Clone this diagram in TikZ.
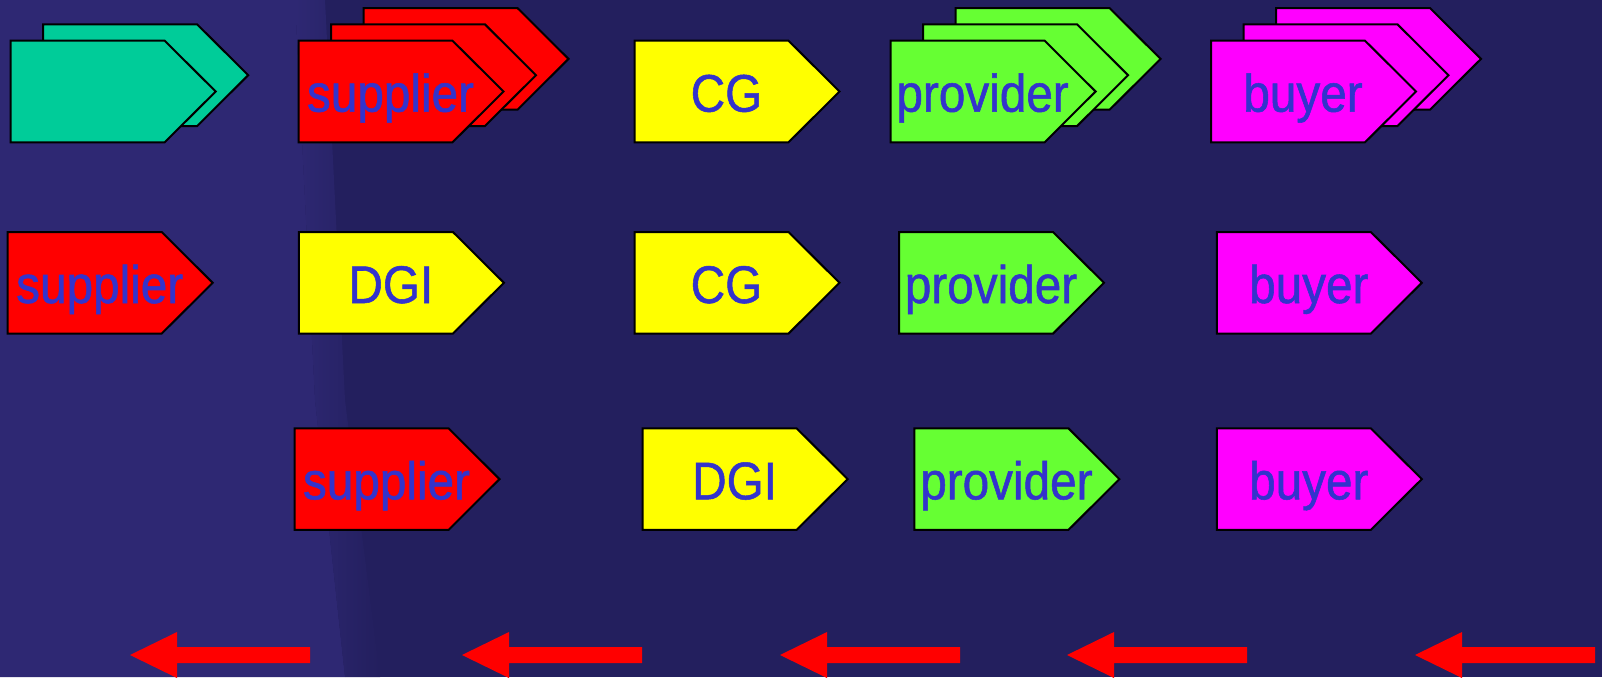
\documentclass[tikz,border=0pt]{standalone}
\usepackage{fontspec}
\newfontfamily\tagfont[FakeStretch=0.9, FakeBold=1]{Liberation Sans}
\definecolor{bgdark}{RGB}{35,31,94}
\definecolor{bgband}{RGB}{46,40,115}
\definecolor{tealtag}{RGB}{0,204,153}
\definecolor{redtag}{RGB}{255,0,0}
\definecolor{yellowtag}{RGB}{255,255,0}
\definecolor{greentag}{RGB}{102,255,51}
\definecolor{magentatag}{RGB}{255,0,255}
\definecolor{tagblue}{RGB}{51,51,204}
\tikzset{
  tagbox/.style={draw=black, line width=2pt, line join=miter},
  tagtext/.style={anchor=base, inner sep=0pt, text=tagblue,
    font=\tagfont\fontsize{53}{60}\selectfont},
  backarrow/.style={fill=redtag}
}
% one tag: top left corner, fill colour
\newcommand{\tagshape}[2]{%
  \filldraw[tagbox, fill=#2] #1 -- ++(154,0) -- ++(51,50.8) -- ++(-51,50.8) -- ++(-154,0) -- cycle;}

\begin{document}
\begin{tikzpicture}[x=1pt, y=-1pt]
  \useasboundingbox (0,0) rectangle (1602,677);
  \clip (0,0) rectangle (1602,677);

  % background
  \fill[bgdark] (0,0) rectangle (1602,677);
  \fill[bgband] (0,0) -- (295,0) -- (315,400) -- (345,677) -- (0,677) -- cycle;
  \shade[left color=bgband, right color=bgdark] (295,0) -- (325,0) -- (345,400) -- (380,677) -- (345,677) -- (315,400) -- cycle;

  % first row
  \foreach \i in {1,0} \tagshape{(10.7+32.5*\i, 40.7-16.3*\i)}{tealtag};
  \foreach \i in {2,1,0} \tagshape{(298.5+32.5*\i, 40.7-16.3*\i)}{redtag};
  \node[tagtext] (supA) at (390.5,111.7) {supplier};
  \tagshape{(634.5,40.7)}{yellowtag}
  \node[tagtext] (cgA) at (726.5,111.7) {CG};
  \foreach \i in {2,1,0} \tagshape{(890.6+32.5*\i, 40.7-16.3*\i)}{greentag};
  \node[tagtext] (provA) at (982.6,111.7) {provider};
  \foreach \i in {2,1,0} \tagshape{(1211+32.5*\i, 40.7-16.3*\i)}{magentatag};
  \node[tagtext] (buyA) at (1303,111.7) {buyer};

  % second row
  \tagshape{(7.7,232)}{redtag}
  \node[tagtext] (supB) at (99.7,303) {supplier};
  \tagshape{(298.9,232)}{yellowtag}
  \node[tagtext] (dgiB) at (390.9,303) {DGI};
  \tagshape{(634.5,232)}{yellowtag}
  \node[tagtext] (cgB) at (726.5,303) {CG};
  \tagshape{(899,232)}{greentag}
  \node[tagtext] (provB) at (991,303) {provider};
  \tagshape{(1216.8,232)}{magentatag}
  \node[tagtext] (buyB) at (1308.8,303) {buyer};

  % third row
  \tagshape{(294.5,428.3)}{redtag}
  \node[tagtext] (supC) at (386.5,499.3) {supplier};
  \tagshape{(642.6,428.3)}{yellowtag}
  \node[tagtext] (dgiC) at (734.6,499.3) {DGI};
  \tagshape{(914.4,428.3)}{greentag}
  \node[tagtext] (provC) at (1006.4,499.3) {provider};
  \tagshape{(1216.8,428.3)}{magentatag}
  \node[tagtext] (buyC) at (1308.8,499.3) {buyer};

  % arrows along the bottom
  \foreach \t in {130,462,780,1067,1415}
    \fill[backarrow] (\t,655) -- ++(47,-23) -- ++(0,15) -- ++(133,0) -- ++(0,16) -- ++(-133,0) -- ++(0,15) -- cycle;
\end{tikzpicture}
\end{document}
